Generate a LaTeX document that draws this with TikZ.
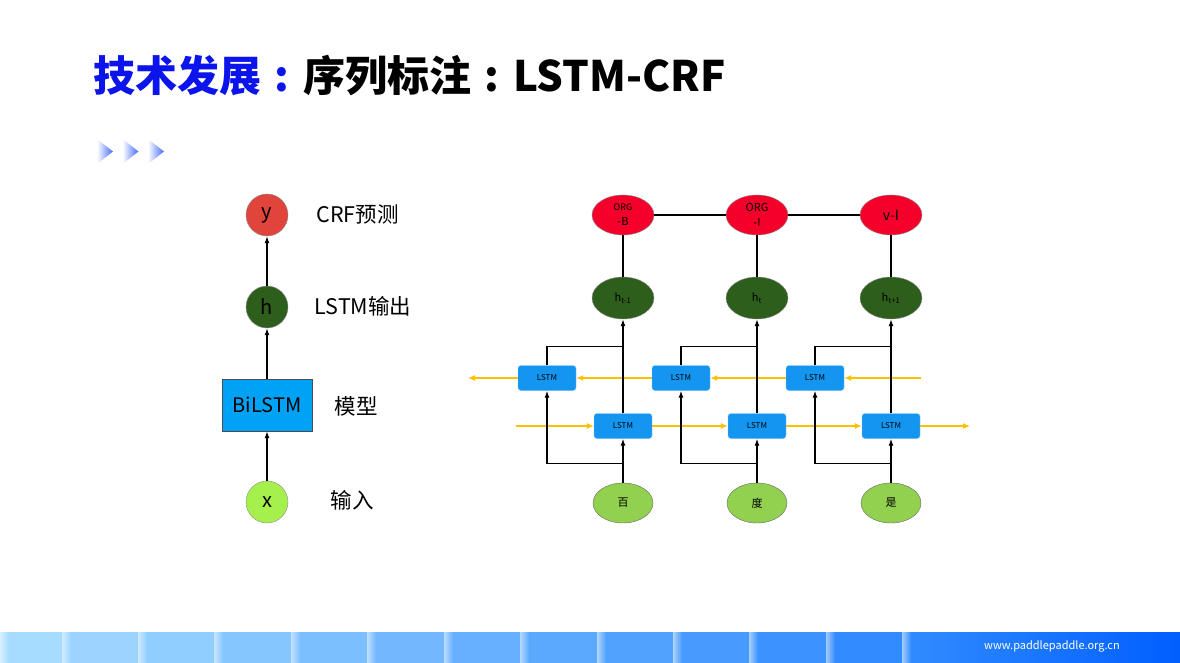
\documentclass[tikz,border=0pt]{standalone}
\usepackage{fontspec}
\setmainfont{Noto Sans CJK SC}
\usetikzlibrary{arrows.meta,shapes.geometric}

\definecolor{titleblue}{RGB}{10,20,235}
\definecolor{chevblue}{RGB}{70,105,255}
\definecolor{yred}{RGB}{224,68,58}
\definecolor{hgreen}{RGB}{46,94,28}
\definecolor{xgreen}{RGB}{166,240,78}
\definecolor{bilstmblue}{RGB}{0,162,245}
\definecolor{tagred}{RGB}{245,0,42}
\definecolor{lstmblue}{RGB}{20,149,240}
\definecolor{wordgreen}{RGB}{146,208,80}
\definecolor{floworange}{RGB}{255,192,0}
\definecolor{footL}{RGB}{165,220,255}
\definecolor{footM}{RGB}{50,140,255}
\definecolor{footR}{RGB}{0,95,255}

\newcommand{\tcolon}{\makebox[1em]{:}}

\begin{document}
\begin{tikzpicture}[x=1pt, y=-1pt, node distance={134pt},
    dot/.style = {draw=black!45, circle, minimum size=42pt, inner sep=0pt, font=\fontsize{20}{24}\selectfont},
    model/.style = {draw=black!70, fill=bilstmblue, minimum width=90pt, minimum height=52pt, font=\fontsize{20}{24}\selectfont},
    lbl/.style = {anchor=west, font=\fontsize{21.5}{26}\selectfont},
    tag/.style = {draw=black!45, fill=tagred, ellipse, minimum width=62pt, minimum height=40pt, inner sep=0pt, align=center, font=\fontsize{11}{15}\selectfont},
    hid/.style = {draw=black!45, fill=hgreen, ellipse, minimum width=62pt, minimum height=42pt, inner sep=0pt, font=\fontsize{11}{13}\selectfont},
    word/.style = {draw=black!60, fill=wordgreen, ellipse, minimum width=60pt, minimum height=40pt, inner sep=0pt, font=\fontsize{11}{13}\selectfont},
    lstm/.style = {draw=lstmblue!60!white, fill=lstmblue, rounded corners=3pt, minimum width=58pt, minimum height=25pt, inner sep=0pt, font=\fontsize{8}{10}\selectfont},
    blk/.style = {-{Latex[length=7pt,width=5pt]}, line width=1.2pt},
    plain/.style = {line width=1.2pt},
    flow/.style = {-{Latex[length=7pt,width=6pt]}, draw=floworange, line width=1.2pt}]
    \useasboundingbox (0,0) rectangle (1180,663);

    % title and chevrons
    \node[anchor=base west, inner sep=0pt, font=\bfseries\fontsize{42}{50}\selectfont] (title) at (93,92)
        {\textcolor{titleblue}{技术发展\tcolon}序列标注\tcolon LSTM-CRF};
    \foreach \i in {0,1,2}
        \shade[left color=white, right color=chevblue] ({97+25.5*\i},139) -- ({113+25.5*\i},151.5) -- ({97+25.5*\i},164) -- cycle;

    % left: overview
    \node[dot, fill=xgreen] (x) at (267,502) {x};
    \node[model] (bilstm) at (267,405) {BiLSTM};
    \node[dot, fill=hgreen] (h) at (267,307) {h};
    \node[dot, fill=yred] (y) at (267,215) {y};
    \path[blk] (x) edge (bilstm) (bilstm) edge (h) (h) edge (y);

    \node[lbl] (ly) at (313,214) {CRF预测};
    \node[lbl] (lh) at (311,306) {LSTM输出};
    \node[lbl] (lm) at (331,406) {模型};
    \node[lbl] (lx) at (327,500) {输入};

    % right: BiLSTM-CRF unrolled
    \node[tag] (t1) at (623,215) {{\fontsize{9}{11}\selectfont ORG}\\-B};
    \node[tag] (t2) [right of=t1] {ORG\\-I};
    \node[tag] (t3) [right of=t2] {\fontsize{14}{16}\selectfont v-I};

    \node[hid] (h1) at (623,298) {h\textsubscript{t-1}};
    \node[hid] (h2) [right of=h1] {h\textsubscript{t}};
    \node[hid] (h3) [right of=h2] {h\textsubscript{t+1}};

    \node[lstm] (b1) at (547,378) {LSTM};
    \node[lstm] (b2) [right of=b1] {LSTM};
    \node[lstm] (b3) [right of=b2] {LSTM};

    \node[lstm] (f1) at (623,426) {LSTM};
    \node[lstm] (f2) [right of=f1] {LSTM};
    \node[lstm] (f3) [right of=f2] {LSTM};

    \node[word] (w1) at (623,503) {百};
    \node[word] (w2) [right of=w1] {度};
    \node[word] (w3) [right of=w2] {是};

    \coordinate (fin) at (516,426);
    \coordinate (fout) at (970,426);
    \coordinate (bin) at (921,378);
    \coordinate (bout) at (468,378);

    \draw[flow] (fin) -- (f1);
    \draw[flow] (f1) -- (f2);
    \draw[flow] (f2) -- (f3);
    \draw[flow] (f3) -- (fout);
    \draw[flow] (bin) -- (b3);
    \draw[flow] (b3) -- (b2);
    \draw[flow] (b2) -- (b1);
    \draw[flow] (b1) -- (bout);

    \foreach \i in {1,2,3} {
        \path (w\i.north) ++(0,-19) coordinate (s\i);
        \path (h\i.south) ++(0,27) coordinate (k\i);
        \draw[blk] (w\i) -- (f\i);
        \draw[blk] (s\i) -| (b\i.south);
        \draw[blk] (f\i) -- (h\i);
        \draw[plain] (b\i.north) |- (k\i);
        \draw[plain] (h\i) -- (t\i);
    }
    \draw[plain] (t1) -- (t2) -- (t3);

    % footer band
    \foreach \a/\b/\p in {0/62/0, 62/138/9, 138/214/18, 214/291/27, 291/367/36, 367/444/45, 444/520/55, 520/597/64, 597/673/73, 673/749/82, 749/826/91, 826/902/100} {
        \colorlet{seg}{footM!\p!footL}
        \fill[seg] (\a,632) rectangle (\b,663);
        \shade[left color=seg!45!white, right color=seg] (\a,632) rectangle ({\a+9},663);
    }
    \shade[left color=footM, right color=footR] (902,632) rectangle (1180,663);
    \shade[left color=footM!45!white, right color=footM] (902,632) rectangle (911,663);
    \node[text=white, font=\fontsize{11}{13}\selectfont] (url) at (1052,646) {www.paddlepaddle.org.cn};
\end{tikzpicture}
\end{document}
